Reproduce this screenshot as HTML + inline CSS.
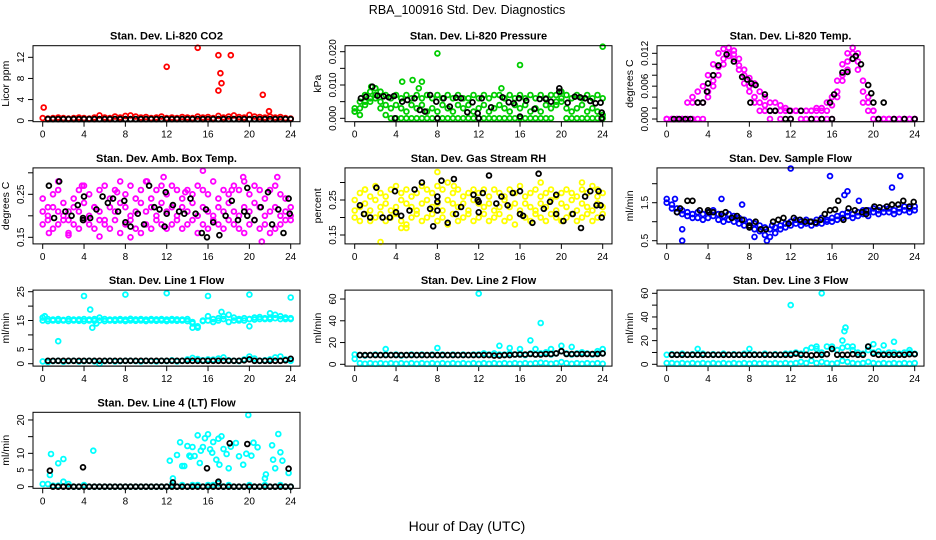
<!DOCTYPE html>
<html><head><meta charset="utf-8">
<style>
html,body{margin:0;padding:0;background:#fff;}
svg{display:block;font-family:"Liberation Sans",Arial,sans-serif;}
</style></head>
<body>
<svg id="chart" width="936" height="540" viewBox="0 0 936 540" xmlns="http://www.w3.org/2000/svg">
<rect width="936" height="540" fill="#fff"/>
<text x="467" y="14" font-size="12.5" text-anchor="middle">RBA_100916  Std. Dev. Diagnostics</text>
<text x="467" y="531" font-size="14" text-anchor="middle">Hour of Day (UTC)</text>
</svg>
<script>
const HOURS=[0,0.5,1,1.5,2,2.5,3,3.5,4,4.5,5,5.5,6,6.5,7,7.5,8,8.5,9,9.5,10,10.5,11,11.5,12,12.5,13,13.5,14,14.5,15,15.5,16,16.5,17,17.5,18,18.5,19,19.5,20,20.5,21,21.5,22,22.5,23,23.5,24];
const XTICKS=[0,4,8,12,16,20,24];
// Panel 1 CO2
const co2A=[0.5,0.4,0.5,0.6,0.5,0.4,0.5,0.6,0.5,0.4,0.6,1.0,0.6,0.5,0.8,0.6,0.9,1.0,0.8,0.6,0.7,0.5,0.6,0.8,0.5,0.6,0.5,0.7,0.6,0.5,0.8,0.6,0.7,0.5,0.9,0.6,0.8,1.0,0.7,0.6,1.1,0.8,0.7,0.6,0.8,0.6,0.7,0.5,0.4];
const co2OutX=[0.1,12,15,17,17.2,17.3,17,18.2,21.3,21.9];
const co2OutY=[2.5,10.2,13.8,12.4,9,7.1,5.7,12.4,4.9,1.8];
const co2K=[null,0.3,0.3,0.3,0.3,0.3,0.3,0.3,0.3,0.3,0.3,0.3,0.3,0.3,0.3,0.3,0.3,0.3,0.3,0.3,0.3,0.3,0.3,0.3,0.3,0.3,0.3,0.3,0.3,0.3,0.3,0.3,0.3,0.3,0.3,0.3,0.3,0.3,0.3,0.3,0.3,0.3,0.3,0.3,0.3,0.3,0.3,0.3,0.3];
// Panel 2 Pressure
const presA=[0.003,0.005,0.007,0.008,0.009,0.008,0.007,0.006,0.007,0.006,0.007,0.006,0.007,0.006,0.007,0.006,0.007,0.006,0.007,0.006,0.007,0.006,0.006,0.007,0.006,0.007,0.006,0.007,0.007,0.006,0.007,0.006,0.007,0.006,0.007,0.006,0.007,0.006,0.007,0.007,0.008,0.007,0.006,0.007,0.006,0.007,0.006,0.007,0.006];
const presB=[0.002,0.003,0.005,0.006,0.007,0.005,0.004,0.003,0.004,0.003,0.002,0.004,0.003,0.004,0.002,0.003,0.002,0.004,0.003,0.002,0.004,0.003,0.004,0.002,0.003,0.004,0.002,0.003,0.004,0.003,0.002,0.004,0.003,0.004,0.002,0.003,0.002,0.004,0.003,0.004,0.005,0.003,0.002,0.003,0.004,0.002,0.003,0.002,0.001];
const presC=[0.002,0.001,0.004,0.005,0.006,0.003,0.001,0,0,0,0,0,0,0,0,0,0,0,0,0,0,0,0,0,0,0,0,0,0,0,0,0,0,0,0,0,0,0,0,0.005,0.006,0,0,0,0,0,0,0,0];
const presOX=[4.6,5.6,6.5,6.2,8,16,24,14.2,2,1.6];
const presOY=[0.011,0.0115,0.011,0.009,0.0195,0.016,0.0215,0.009,0.009,0.0095];
const presKX=[0.6,1.1,1.7,2.2,2.8,3.3,3.8,3.9,4.6,5.1,5.8,6.3,6.8,7.3,7.9,8,8.6,9.2,9.8,10.3,10.9,11.4,11.9,12,12.3,13.2,14.3,14.9,15.4,15.9,16.0,16.6,17.4,17.9,18.5,19.0,19.8,19.8,20.6,21.3,21.8,22.3,22.8,23.3,23.8,23.9,23.9];
const presKY=[0.006,0.0065,0.0095,0.0068,0.0066,0.0063,0.0067,0,0.005,0.0055,0.006,0.0025,0.002,0.007,0.005,0,0.006,0.0035,0.0062,0.006,0.0018,0.0048,0.0015,0,0.006,0.0033,0.0063,0.0048,0.0045,0.006,0.0005,0.0053,0.0028,0.0058,0.0058,0.005,0.009,0.008,0.0047,0.0065,0.0063,0.006,0.0052,0.0045,0.0047,0.0017,0];
// Panel 3 Temp
const tmpA=[0,0,0,0,0,0.003,0.005,0.006,0.008,0.010,0.012,0.0128,0.013,0.0125,0.011,0.009,0.0075,0.0065,0.005,0.004,0.003,0.003,0.0025,0.002,0.0015,0.0015,0.0015,0.0015,0.0015,0.002,0.002,0.003,0.004,0.007,0.010,0.012,0.013,0.012,0.007,0.004,0.0015,0,0,0,0,0,0,0,0];
const tmpB=[0,0,0,0,0,0,0,0,0.005,0.007,0.0095,0.011,0.0115,0.011,0.009,0.0065,0.005,0.004,0.0015,0.0015,0,0.0015,0,0.0015,0,0.0015,0,0,0,0,0,0,0,0.004,0.007,0.009,0.011,0.009,0.003,0.003,0,0,0,0,0,0,0,0,0];
const tmpC=[0,0,0,0,0.003,0.004,0.003,0.003,0.004,0.006,0.008,0.010,0.012,0.0118,0.0098,0.008,0.006,0.003,0.003,0.0025,0.0015,0.0015,0.0015,0.0015,0.0015,0.0015,0.0015,0.0015,0.0015,0.0015,0.0015,0.0015,0.0025,0.005,0.008,0.0105,0.012,0.0105,0.005,0.0015,0.0015,0,0,0,0,0,0,0,0];
const tmpKX=[0.7,1.2,1.8,2.3,3,3.5,3.9,4,4.5,5,5.8,6.5,7.3,7.8,8.2,8.6,9.5,8.1,10,10.5,11.9,13,15.8,16.2,17,17.5,18,18.3,18.8,19.5,19.8,20,21,11.5,12,14,15,16,22,23,24,20.5];
const tmpKY=[0,0,0,0,0.003,0.003,0.005,0.0065,0.008,0.0098,0.0118,0.0105,0.0077,0.0072,0.0065,0.0062,0.0045,0.003,0.0015,0.0015,0.0015,0.0015,0.003,0.0045,0.0085,0.0086,0.011,0.0115,0.0100,0.0062,0.0047,0.003,0.003,0,0,0,0,0,0,0,0,0];
// Panel 4 Amb box temp
const ambA=[0.24,0.22,0.25,0.26,0.23,0.21,0.24,0.26,0.27,0.25,0.22,0.26,0.27,0.24,0.26,0.28,0.25,0.27,0.24,0.26,0.28,0.24,0.26,0.27,0.25,0.27,0.26,0.24,0.26,0.25,0.27,0.26,0.25,0.28,0.24,0.26,0.25,0.27,0.26,0.28,0.25,0.27,0.26,0.24,0.26,0.27,0.25,0.24,0.22];
const ambB=[0.21,0.20,0.22,0.21,0.20,0.19,0.22,0.21,0.23,0.20,0.22,0.21,0.19,0.22,0.21,0.23,0.22,0.20,0.21,0.23,0.21,0.22,0.20,0.23,0.21,0.22,0.20,0.22,0.21,0.23,0.20,0.22,0.21,0.20,0.22,0.21,0.23,0.21,0.20,0.22,0.21,0.23,0.22,0.20,0.21,0.22,0.20,0.21,0.20];
const ambC=[0.18,0.19,0.17,0.18,0.19,0.16,0.18,0.17,0.19,0.18,0.17,0.19,0.18,0.17,0.19,0.16,0.18,0.19,0.17,0.16,0.18,0.17,0.19,0.18,0.17,0.18,0.19,0.17,0.18,0.19,0.16,0.18,0.17,0.19,0.18,0.17,0.19,0.18,0.17,0.16,0.18,0.19,0.17,0.18,0.16,0.17,0.18,0.19,0.19];
const ambOX=[0.6,1.5,2.5,3.8,5.5,7.2,8.5,10.1,11.7,15.5,19.4,21.2,22.7,18.3,13.8];
const ambOY=[0.16,0.28,0.155,0.27,0.152,0.255,0.15,0.28,0.29,0.305,0.29,0.14,0.29,0.26,0.255];
const ambKX=[0.6,1.1,1.6,2.2,2.8,3.4,3.9,3.9,4.0,4.6,5.2,5.8,6.3,6.8,7.3,7.9,8.0,8.5,9.2,9.8,10.3,10.8,11.3,11.8,11.9,12.0,12.6,13.2,13.7,14.3,14.8,15.4,15.8,15.9,16.5,17.1,17.7,18.3,18.9,19.5,19.8,19.8,20.5,21.1,21.8,22.2,22.8,23.3,23.8,23.9];
const ambKY=[0.27,0.195,0.28,0.21,0.2,0.225,0.195,0.19,0.245,0.195,0.215,0.245,0.23,0.24,0.21,0.235,0.185,0.175,0.205,0.18,0.27,0.22,0.215,0.175,0.255,0.205,0.225,0.21,0.205,0.24,0.205,0.16,0.215,0.15,0.185,0.155,0.2,0.235,0.19,0.21,0.265,0.2,0.19,0.22,0.255,0.18,0.215,0.16,0.24,0.205];
// Panel 5 RH
const rhA=[0.25,0.27,0.28,0.26,0.29,0.27,0.26,0.28,0.29,0.27,0.28,0.26,0.27,0.29,0.28,0.27,0.29,0.28,0.30,0.27,0.28,0.26,0.27,0.28,0.27,0.28,0.26,0.28,0.27,0.26,0.28,0.27,0.29,0.26,0.27,0.28,0.26,0.27,0.28,0.26,0.27,0.28,0.27,0.26,0.28,0.27,0.29,0.26,0.27];
const rhB=[0.22,0.23,0.24,0.22,0.25,0.23,0.24,0.22,0.23,0.25,0.24,0.23,0.22,0.24,0.25,0.23,0.24,0.22,0.25,0.24,0.23,0.24,0.22,0.25,0.24,0.23,0.24,0.22,0.23,0.25,0.23,0.24,0.22,0.24,0.23,0.22,0.24,0.23,0.25,0.22,0.24,0.23,0.25,0.22,0.24,0.23,0.22,0.24,0.23];
const rhC=[0.20,0.19,0.21,0.19,0.20,0.21,0.19,0.20,0.21,0.19,0.18,0.20,0.21,0.19,0.20,0.21,0.19,0.20,0.18,0.21,0.19,0.20,0.21,0.19,0.20,0.21,0.19,0.20,0.21,0.19,0.20,0.18,0.21,0.20,0.19,0.21,0.20,0.19,0.21,0.20,0.19,0.20,0.21,0.19,0.20,0.21,0.19,0.20,0.21];
const rhOX=[2.5,5,8,9.6,1.0,18,22,23.5,4.5];
const rhOY=[0.13,0.17,0.33,0.29,0.28,0.30,0.30,0.28,0.17];
const rhKX=[0.5,0.9,1.5,2.1,2.7,3.4,3.9,4,4.5,5.3,5.8,6.5,7.3,7.6,8,8,8,8.4,9.0,9.6,9.8,10.3,11.5,11.9,12,12,12.4,13.0,13.7,14.2,14.8,15.3,16.0,16,16.3,17.2,17.8,18.3,18.9,19.5,19.5,20.2,21.1,21.9,22.3,22.8,23.4,23.6,23.8,23.9];
const rhKY=[0.235,0.21,0.2,0.285,0.2,0.2,0.275,0.215,0.205,0.22,0.28,0.3,0.225,0.175,0.26,0.245,0.22,0.305,0.185,0.31,0.21,0.23,0.265,0.25,0.245,0.215,0.27,0.32,0.24,0.26,0.235,0.27,0.275,0.21,0.205,0.185,0.325,0.225,0.245,0.21,0.265,0.19,0.21,0.17,0.26,0.275,0.235,0.275,0.235,0.2];
// Panel 6 Sample flow
const sfA=[1.6,1.45,1.35,1.3,1.25,1.2,1.25,1.2,1.25,1.3,1.2,1.15,1.2,1.15,1.1,1.05,1.0,0.95,0.9,0.85,0.8,0.85,0.9,0.95,1.0,1.05,1.0,1.05,1.0,1.05,1.1,1.05,1.1,1.15,1.2,1.25,1.2,1.25,1.3,1.3,1.35,1.3,1.35,1.35,1.3,1.35,1.4,1.35,1.4];
const sfB=[1.5,1.35,1.25,1.2,1.15,1.1,1.1,1.05,1.1,1.15,1.05,1.0,1.05,1.0,0.95,0.9,0.85,0.8,0.75,0.65,0.6,0.7,0.8,0.85,0.9,0.95,0.9,0.95,0.9,0.95,0.95,1.0,1.0,1.05,1.1,1.15,1.1,1.15,1.2,1.15,1.25,1.2,1.25,1.25,1.2,1.25,1.3,1.25,1.3];
const sfOX=[1.5,1.5,5.3,7.3,10.2,12,15.8,17.2,17.5,18.6,21.8,22.6,9.7,0.8,8.5];
const sfOY=[0.5,0.8,1.6,1.45,0.9,2.4,2.2,1.7,1.8,1.55,1.9,2.2,0.5,1.6,0.6];
const sfKX=[1,1.3,2.0,2.5,3.2,4.0,4.1,4.5,5.3,5.7,6.3,6.8,7.3,8.0,8.0,8.6,9.1,9.6,10.3,10.8,11.3,11.8,12.3,12.9,13.4,13.9,14.4,14.9,15.3,15.8,16.3,16.6,17.1,17.6,18.2,18.9,19.3,19.3,20.1,20.6,21.3,21.8,22.4,22.9,23.5,23.9];
const sfKY=[1.25,1.35,1.55,1.55,1.3,1.3,1.25,1.25,1.2,1.25,1.1,1.15,1.05,0.9,0.85,1.0,0.8,0.8,1.0,1.05,1.1,0.95,1.1,1.05,1.0,1.0,0.98,1.05,1.2,1.3,1.32,1.55,1.05,1.35,1.3,1.25,1.3,1.2,1.4,1.38,1.4,1.45,1.45,1.55,1.4,1.52];
// Panel 7 Line 1
const l1A=[16,15.5,15.3,15.5,15.2,15.5,15.3,15.4,15.5,15.3,15.5,16,15.5,15.3,15.4,15.5,15.3,15.6,15.4,15.5,15.3,15.5,15.4,15.5,15.3,15.5,15.4,15.3,15.5,14.5,13,15,16.5,15.5,15.8,16.5,17,16,15.5,15.8,15.5,16,16.2,15.8,16,17,16.5,16,15.8];
const l1B=[15,14.8,15,14.9,15,14.8,15,14.9,14.8,15,14.9,15,14.8,15,14.9,15,14.8,15,14.9,15,14.8,15,14.9,15,14.8,15,14.9,15,14.8,14,12.5,14.8,15,14.5,15,15.5,14.5,15,15,15,15.5,15.3,15.5,15.5,15.5,15.8,15.5,15.5,15.5];
const l1C=[0.8,0.6,0.9,1.0,0.7,0.9,1.0,0.8,0.9,1.0,0.8,0.0,0.9,1.0,0.8,0.9,1.0,1.0,0.9,0.8,1.0,0.9,0.8,1.0,0.9,1.2,0.8,1.0,1.5,2,1.6,1.2,1.5,1.4,1.8,2.2,1.2,1.0,0.9,1.5,2.5,1.8,1.0,1.2,1.5,2.2,2.5,1.5,1.0];
const l1OX=[0.2,1.5,4,4.6,4.8,5.2,8,12,16,20,20,24,14.5,17.3,22];
const l1OY=[16.5,7.8,23.5,18.8,12.5,14,24,24.5,23.5,24,13,23,12.5,18,17.5];
const l1K=[null,1,1,1,1,1,1,1,1,1,1,1,1,1,1,1,1,1,1,1,1,1,1,1,1,1,1,1,1,1,1,1,1,1,1,1,1,1,1,1.2,1.5,1,1,1,1,1,1,1.2,1.7];
// Panel 8 Line 2
const l2A=[9,8.5,8,8.5,9,8.5,9,8.5,9,8,8.5,9,8.5,9,8.5,9,8.5,9,8.5,9,8.5,9,8.5,9,9,10,9,10,9,9,10,9,10,8.5,10,9,10,11,9,10,12,10,9,10,11,10,9,10,10];
const l2B=[5,1,0.5,1,0.5,1,0.5,1,0.5,1,0.5,1,0.5,1,0.5,1,0.5,1,0.5,1,0.5,1,0.5,1,0.5,1,0.5,1,0.5,1,0.5,1,0.5,1,0.5,1,1.5,1,0.5,1,2,1,0.5,1,0.5,1,0.5,1,0.5];
const l2OX=[3,8,12,14,15,16,17,17.5,18,19,20,21,23.5,24];
const l2OY=[14,15,65,17,15,14,22,14,38,14,17,16,12,14];
const l2K=[null,8.5,8.5,8.5,8.5,8.5,8.5,8.5,8.5,8.5,8.5,8.5,8.5,8.5,8.5,8.5,8.5,8.5,8.5,8.5,8.5,8.5,8.5,8.5,8.5,8.5,8.5,8,8,8.5,8.5,9,9,9,9.5,9,9,9.5,9.5,10,12,9.5,9.5,9.5,9.5,9.5,9.5,9.5,10];
// Panel 9 Line 3
const l3A=[8,8.5,8,9,8,8.5,8,9,8,8.5,8,9,8,8.5,8,9,8,8.5,8,9,8,8.5,8,9,9,10,9,12,14,13,10,15,13,12,14,15,12,10,9,12,10,11,9,10,10,9,10,10,9];
const l3B=[1,1,0.5,1,0.5,1,0.5,1,0.5,1,0.5,1,0.5,1,0.5,1,0.5,1,0.5,1,0.5,1,0.5,1,0.5,1,2,1,3,1,2,1,0.5,1,3,2,1,0.5,1,2,1,0.5,1,0.5,1,0.5,1,0.5,1];
const l3OX=[3,8,12,14.5,15,16,17,17.2,17.3,18,19.5,20,21,22,23.5];
const l3OY=[13,13,50,15,60,15,20,28,31,15,15,17,16,19,12];
const l3K=[null,8,8,8,8,8,8,8,8,8,8,8,8,8,8,8,8,8,8,8,8,8,8,8,8,9,8,8,7.5,8,8,8.5,13,8,8,8,8.5,8,8,15,9,8,8,8,8,8,8,8.5,8.5];
// Panel 10 Line 4
const l4A=[0.8,0.8,0.3,0.3,1.5,0.8,0,0,0.5,0,0,0,0,0,0,0,0,0,0,0,0,0,0,0,0,0.5,0,0.5,0,0.5,0.5,0,0.5,0.5,1,0,0.5,0,0,0,0.5,0,0,0.5,0,0,0.5,0,0];
const l4OX=[0.8,1.5,2,4.9,12.3,13.0,13.3,13.5,14,14.2,14.5,14.7,15,15.2,15.5,15.7,16,16.2,16.5,16.8,17,17.3,17.5,17.8,18.2,18.7,19,19.4,19.7,20.2,20.4,20.8,21.6,22.2,22.3,22.8,23,23.2,23.8,0.7,12.6,14.3,15.3,16.4,17.1,18.0,13.7,19.9,22.5,21.5];
const l4OY=[9.8,7,8.3,10.8,7.8,9.5,13.3,6.2,12.2,9.3,11.9,9.2,15.4,7.1,11.9,14.5,15.7,11.2,13.4,8.1,14.4,15.1,11.3,9.8,12.0,13.1,9.1,6.6,9.9,9.3,13.2,11.8,3.7,12.4,8.1,15.8,10.3,7.8,4.1,3.5,2.5,9.0,10.8,10.2,6.6,5.5,6.2,21.5,5.5,2.5];
const l4K=[null,null,0,0,0,0,0,0,0,0,0,0,0,0,0,0,0,0,0,0,0,0,0,0,0,0,0,0,0,0,0,0,0,0,0,0,0,0,0,0,0,0,0,0,0,0,0,0,0];
const l4KX=[0.7,3.9,12.6,15.9,17.0,18.1,19.8,23.8];
const l4KY=[4.8,5.8,1.3,5.5,1.5,13.0,12.8,5.4];

const NS="http://www.w3.org/2000/svg";
const svg=document.getElementById('chart');
const RED="#ff0000",GRN="#00cd00",MAG="#ff00ff",YEL="#ffff00",BLU="#0000ff",CYA="#00ffff",BLK="#000000";

const panels=[
 {col:0,row:0,title:"Stan. Dev. Li-820 CO2",ylab:"Licor ppm",lo:-0.19,hi:14.2,ticks:[0,4,8,12],tl:["0","4","8","12"],
  layers:[[HOURS,co2A,RED],[co2OutX,co2OutY,RED],[HOURS,co2K,BLK]]},
 {col:1,row:0,title:"Stan. Dev. Li-820 Pressure",ylab:"kPa",lo:-0.00102,hi:0.0218,ticks:[0,0.005,0.01,0.015,0.02],tl:["0.000","","0.010","","0.020"],
  layers:[[HOURS,presC,GRN],[HOURS,presB,GRN],[HOURS,presA,GRN],[presOX,presOY,GRN],[presKX,presKY,BLK]]},
 {col:2,row:0,title:"Stan. Dev. Li-820 Temp.",ylab:"degrees C",lo:-0.00049,hi:0.01339,ticks:[0,0.002,0.004,0.006,0.008,0.01,0.012],tl:["0.000","","","0.006","","","0.012"],
  layers:[[HOURS,tmpB,MAG],[HOURS,tmpC,MAG],[HOURS,tmpA,MAG],[tmpKX,tmpKY,BLK]]},
 {col:0,row:1,title:"Stan. Dev. Amb. Box Temp.",ylab:"degrees C",lo:0.1347,hi:0.3114,ticks:[0.15,0.2,0.25,0.3],tl:["0.15","","0.25",""],
  layers:[[HOURS,ambA,MAG],[HOURS,ambB,MAG],[HOURS,ambC,MAG],[ambOX,ambOY,MAG],[ambKX,ambKY,BLK]]},
 {col:1,row:1,title:"Stan. Dev. Gas Stream RH",ylab:"percent",lo:0.1246,hi:0.3417,ticks:[0.15,0.2,0.25,0.3],tl:["0.15","","0.25",""],
  layers:[[HOURS,rhA,YEL],[HOURS,rhB,YEL],[HOURS,rhC,YEL],[rhOX,rhOY,YEL],[rhKX,rhKY,BLK]]},
 {col:2,row:1,title:"Stan. Dev. Sample Flow",ylab:"ml/min",lo:0.416,hi:2.416,ticks:[0.5,1,1.5,2],tl:["0.5","","1.5",""],
  layers:[[HOURS,sfA,BLU],[HOURS,sfB,BLU],[sfOX,sfOY,BLU],[sfKX,sfKY,BLK]]},
 {col:0,row:2,title:"Stan. Dev. Line 1 Flow",ylab:"ml/min",lo:-0.83,hi:25.56,ticks:[0,5,10,15,20,25],tl:["0","5","","15","","25"],
  layers:[[HOURS,l1A,CYA],[HOURS,l1B,CYA],[HOURS,l1C,CYA],[l1OX,l1OY,CYA],[HOURS,l1K,BLK]]},
 {col:1,row:2,title:"Stan. Dev. Line 2 Flow",ylab:"ml/min",lo:-1.65,hi:68.2,ticks:[0,20,40,60],tl:["0","20","40","60"],
  layers:[[HOURS,l2B,CYA],[HOURS,l2A,CYA],[l2OX,l2OY,CYA],[HOURS,l2K,BLK]]},
 {col:2,row:2,title:"Stan. Dev. Line 3 Flow",ylab:"ml/min",lo:-1.52,hi:62.7,ticks:[0,10,20,30,40,50,60],tl:["0","","20","","40","","60"],
  layers:[[HOURS,l3B,CYA],[HOURS,l3A,CYA],[l3OX,l3OY,CYA],[HOURS,l3K,BLK]]},
 {col:0,row:3,title:"Stan. Dev. Line 4 (LT) Flow",ylab:"ml/min",lo:-0.48,hi:22.3,ticks:[0,5,10,15,20],tl:["0","5","10","","20"],
  layers:[[HOURS,l4A,CYA],[l4OX,l4OY,CYA],[HOURS,l4K,BLK],[l4KX,l4KY,BLK]]}
];

function mk(tag,attrs,parent){const e=document.createElementNS(NS,tag);for(const k in attrs)e.setAttribute(k,attrs[k]);(parent||svg).appendChild(e);return e;}

panels.forEach((p,pi)=>{
  const L=33+312*p.col, R=300+312*p.col, T=45.7+122.2*p.row, B=T+76;
  const x0=42.7+312*p.col, x24=290.7+312*p.col;
  const sx=v=>x0+(x24-x0)*v/24;
  const sy=v=>B-(v-p.lo)/(p.hi-p.lo)*(B-T);
  const g=mk('g',{});
  
  
  const t=mk('text',{x:(L+R)/2,y:T-6,'font-size':11,'font-weight':'bold','text-anchor':'middle'},g);
  t.textContent=p.title;
  
  
  const yl=mk('text',{x:0,y:0,'font-size':10.5,'text-anchor':'middle',transform:`translate(${L-24},${(T+B)/2}) rotate(-90)`},g);
  yl.textContent=p.ylab;
  
  
  const xa=mk('g',{stroke:'#000','stroke-width':1},g);
  
  
  mk('line',{x1:sx(0),x2:sx(24),y1:B,y2:B},xa);
  XTICKS.forEach(v=>{
    mk('line',{x1:sx(v),x2:sx(v),y1:B,y2:B+5},xa);
    const tx=mk('text',{x:sx(v),y:B+16,'font-size':10,'text-anchor':'middle',stroke:'none',fill:'#000'},g);
    tx.textContent=v;
    
    
  });
  const ya=mk('g',{stroke:'#000','stroke-width':1},g);
  
  
  mk('line',{x1:L,x2:L,y1:sy(p.ticks[0]),y2:sy(p.ticks[p.ticks.length-1])},ya);
  p.ticks.forEach((v,i)=>{
    mk('line',{x1:L-5,x2:L,y1:sy(v),y2:sy(v)},ya);
    if(p.tl[i]){
      const ty=mk('text',{x:0,y:0,'font-size':10,'text-anchor':'middle',transform:`translate(${L-9},${sy(v)}) rotate(-90)`},g);
      ty.textContent=p.tl[i];
      
      
    }
  });
  const pts=mk('g',{fill:'none','stroke-width':1.8},g);
  
  
  p.layers.forEach(([xs,ys,col])=>{
    xs.forEach((xv,i)=>{
      const yv=ys[i];
      if(yv===null||yv===undefined)return;
      const c=mk('circle',{cx:sx(xv).toFixed(1),cy:sy(yv).toFixed(1),r:2.4,stroke:col},pts);
      
      
    });
  });
  const box=mk('rect',{x:L,y:T,width:R-L,height:B-T,fill:'none',stroke:'#000','stroke-width':1},g);
  
  
});
</script>
</body></html>
